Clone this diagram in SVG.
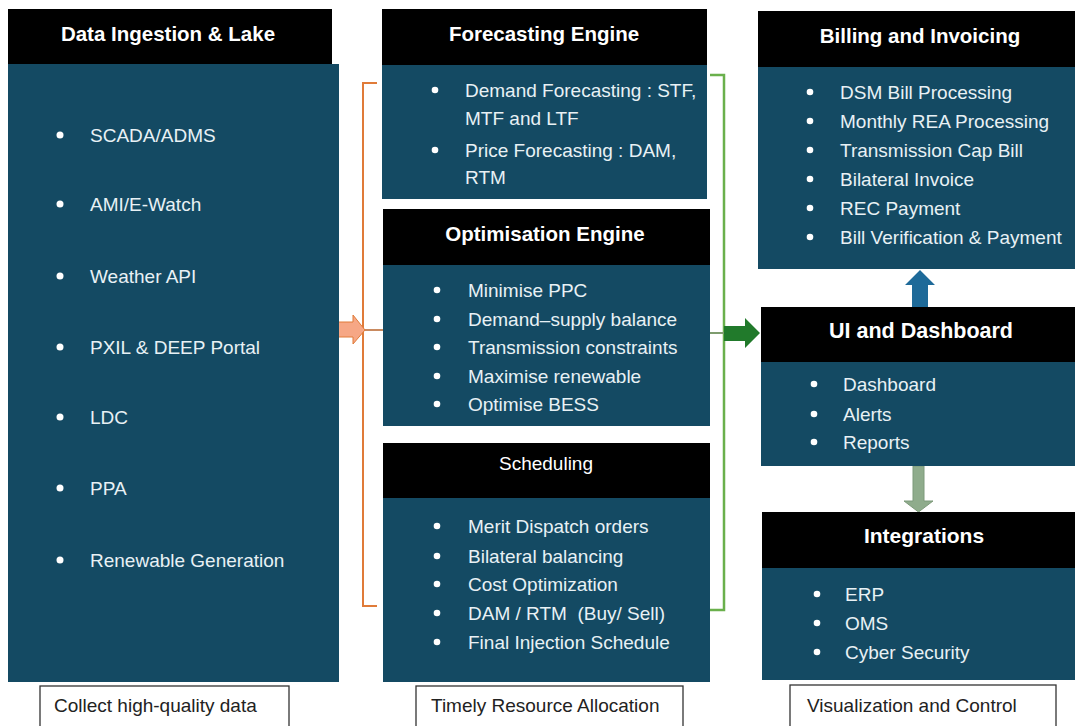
<svg xmlns="http://www.w3.org/2000/svg" width="1075" height="726" viewBox="0 0 1075 726">
<style>
  .hd { fill: #000000; }
  .bd { fill: #144A63; }
  .ht { font-family: "Liberation Sans", Arial, sans-serif; font-weight: bold; font-size: 20.5px; fill: #FFFFFF; text-anchor: middle; }
  .hn { font-family: "Liberation Sans", Arial, sans-serif; font-size: 19px; fill: #FFFFFF; text-anchor: middle; }
  .it { font-family: "Liberation Sans", Arial, sans-serif; font-size: 19px; fill: #E8F1F5; white-space: pre; }
  .b { fill: #FFFFFF; }
  .fb { fill: #FFFFFF; stroke: #333333; stroke-width: 1.3; }
  .ft { font-family: "Liberation Sans", Arial, sans-serif; font-size: 19px; fill: #222222; }
</style>
<rect width="1075" height="726" fill="#FFFFFF"/>

<g id="connectors">
  <path d="M377,83 H363 V606 H377" fill="none" stroke="#E07B39" stroke-width="2"/>
  <path d="M363,330 H387" fill="none" stroke="#C98A60" stroke-width="2"/>
  <polygon points="332,322 353,322 353,315 365,330 353,344 353,337 332,337" fill="#F6A785" stroke="#E07B39" stroke-width="1"/>
  <path d="M710,75 H724 V610 H710" fill="none" stroke="#6AB04C" stroke-width="2.5"/>
  <path d="M705,333 H724" fill="none" stroke="#7E9C6E" stroke-width="2"/>
  <polygon points="724,326 745,326 745,318 760,333 745,348 745,341 724,341" fill="#217A2B"/>
  <polygon points="912,307 928,307 928,285 935,285 920,270 905,285 912,285" fill="#1E6A99"/>
  <polygon points="913,466 924,466 924,501 933,501 918.5,512 904,501 913,501" fill="#8FAC8C" stroke="#7D9A7A" stroke-width="1"/>
</g>

<g id="data-ingestion">
  <rect class="bd" x="8" y="64" width="331" height="618"/>
  <rect class="hd" x="8" y="9" width="324" height="55"/>
  <text class="ht" x="168" y="41">Data Ingestion &amp; Lake</text>
  <circle class="b" cx="60" cy="135" r="3.5"/><text class="it" x="90" y="142">SCADA/ADMS</text>
  <circle class="b" cx="60" cy="204" r="3.5"/><text class="it" x="90" y="211">AMI/E-Watch</text>
  <circle class="b" cx="60" cy="276" r="3.5"/><text class="it" x="90" y="283">Weather API</text>
  <circle class="b" cx="60" cy="347" r="3.5"/><text class="it" x="90" y="354">PXIL &amp; DEEP Portal</text>
  <circle class="b" cx="60" cy="417" r="3.5"/><text class="it" x="90" y="424">LDC</text>
  <circle class="b" cx="60" cy="488" r="3.5"/><text class="it" x="90" y="495">PPA</text>
  <circle class="b" cx="60" cy="560" r="3.5"/><text class="it" x="90" y="567">Renewable Generation</text>
</g>

<g id="forecasting">
  <rect class="bd" x="382" y="65" width="325" height="134"/>
  <rect class="hd" x="382" y="9" width="325" height="56"/>
  <text class="ht" x="544" y="41">Forecasting Engine</text>
  <circle class="b" cx="435" cy="90" r="3.3"/><text class="it" x="465" y="97">Demand Forecasting : STF,</text>
  <text class="it" x="465" y="125">MTF and LTF</text>
  <circle class="b" cx="435" cy="150" r="3.3"/><text class="it" x="465" y="157">Price Forecasting : DAM,</text>
  <text class="it" x="465" y="184">RTM</text>
</g>

<g id="optimisation">
  <rect class="bd" x="383" y="265" width="327" height="161"/>
  <rect class="hd" x="383" y="209" width="327" height="56"/>
  <text class="ht" x="545" y="241">Optimisation Engine</text>
  <circle class="b" cx="437" cy="290" r="3.3"/><text class="it" x="468" y="297">Minimise PPC</text>
  <circle class="b" cx="437" cy="319" r="3.3"/><text class="it" x="468" y="326">Demand–supply balance</text>
  <circle class="b" cx="437" cy="347" r="3.3"/><text class="it" x="468" y="354">Transmission constraints</text>
  <circle class="b" cx="437" cy="376" r="3.3"/><text class="it" x="468" y="383">Maximise renewable</text>
  <circle class="b" cx="437" cy="404" r="3.3"/><text class="it" x="468" y="411">Optimise BESS</text>
</g>

<g id="scheduling">
  <rect class="bd" x="383" y="498" width="327" height="184"/>
  <rect class="hd" x="383" y="443" width="327" height="55"/>
  <text class="hn" x="546" y="470">Scheduling</text>
  <circle class="b" cx="437" cy="526" r="3.3"/><text class="it" x="468" y="533">Merit Dispatch orders</text>
  <circle class="b" cx="437" cy="556" r="3.3"/><text class="it" x="468" y="563">Bilateral balancing</text>
  <circle class="b" cx="437" cy="584" r="3.3"/><text class="it" x="468" y="591">Cost Optimization</text>
  <circle class="b" cx="437" cy="613" r="3.3"/><text class="it" x="468" y="620" xml:space="preserve">DAM / RTM  (Buy/ Sell)</text>
  <circle class="b" cx="437" cy="642" r="3.3"/><text class="it" x="468" y="649">Final Injection Schedule</text>
</g>

<g id="billing">
  <rect class="bd" x="758" y="67" width="317" height="202"/>
  <rect class="hd" x="758" y="11" width="317" height="56"/>
  <text class="ht" x="920" y="43">Billing and Invoicing</text>
  <circle class="b" cx="810" cy="92" r="3.3"/><text class="it" x="840" y="99">DSM Bill Processing</text>
  <circle class="b" cx="810" cy="121" r="3.3"/><text class="it" x="840" y="128">Monthly REA Processing</text>
  <circle class="b" cx="810" cy="150" r="3.3"/><text class="it" x="840" y="157">Transmission Cap Bill</text>
  <circle class="b" cx="810" cy="179" r="3.3"/><text class="it" x="840" y="186">Bilateral Invoice</text>
  <circle class="b" cx="810" cy="208" r="3.3"/><text class="it" x="840" y="215">REC Payment</text>
  <circle class="b" cx="810" cy="237" r="3.3"/><text class="it" x="840" y="244">Bill Verification &amp; Payment</text>
</g>

<g id="ui-dashboard">
  <rect class="bd" x="761" y="362" width="314" height="104"/>
  <rect class="hd" x="761" y="307" width="314" height="55"/>
  <text class="ht" x="921" y="338" style="font-size:21.5px">UI and Dashboard</text>
  <circle class="b" cx="814" cy="384" r="3.3"/><text class="it" x="843" y="391">Dashboard</text>
  <circle class="b" cx="814" cy="414" r="3.3"/><text class="it" x="843" y="421">Alerts</text>
  <circle class="b" cx="814" cy="442" r="3.3"/><text class="it" x="843" y="449">Reports</text>
</g>

<g id="integrations">
  <rect class="bd" x="762" y="568" width="313" height="112"/>
  <rect class="hd" x="762" y="512" width="313" height="56"/>
  <text class="ht" x="924" y="543" style="font-size:21px">Integrations</text>
  <circle class="b" cx="817" cy="594" r="3.3"/><text class="it" x="845" y="601">ERP</text>
  <circle class="b" cx="817" cy="623" r="3.3"/><text class="it" x="845" y="630">OMS</text>
  <circle class="b" cx="817" cy="652" r="3.3"/><text class="it" x="845" y="659">Cyber Security</text>
</g>

<g id="footer-collect">
  <rect class="fb" x="40" y="686" width="249" height="45"/>
  <text class="ft" x="54" y="712">Collect high-quality data</text>
</g>
<g id="footer-timely">
  <rect class="fb" x="416" y="686" width="267" height="45"/>
  <text class="ft" x="431" y="712">Timely Resource Allocation</text>
</g>
<g id="footer-visual">
  <rect class="fb" x="790" y="685" width="266" height="46"/>
  <text class="ft" x="807" y="712">Visualization and Control</text>
</g>
</svg>
